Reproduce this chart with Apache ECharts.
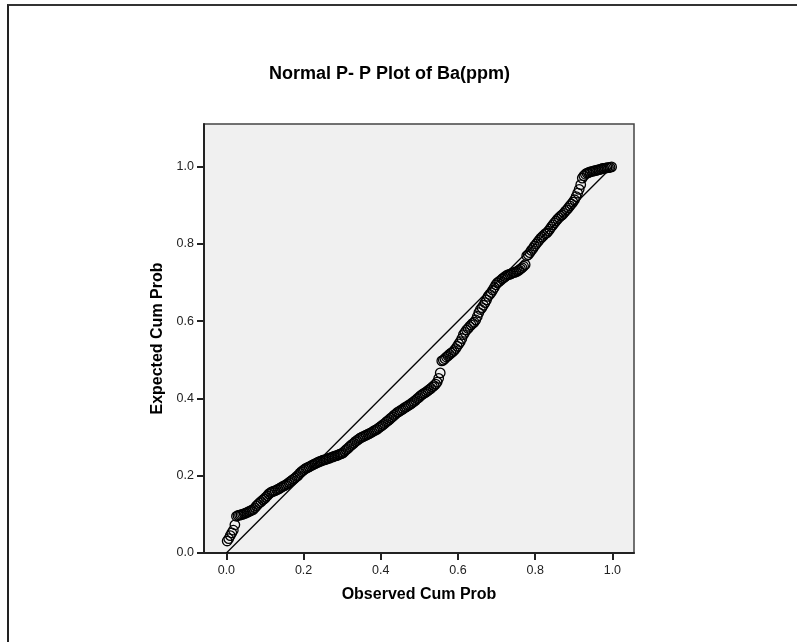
<!DOCTYPE html>
<html>
<head>
<meta charset="utf-8">
<script src="https://cdn.jsdelivr.net/npm/echarts@6/dist/echarts.min.js"></script>
<style>
html,body{margin:0;padding:0;background:#fff;}
#chart{position:absolute;left:0;top:0;width:797px;height:642px;}
#frame{position:absolute;left:7px;top:4px;width:800px;height:650px;border-left:2px solid #222;border-top:2px solid #333;pointer-events:none;}
</style>
</head>
<body>
<div id="chart"></div>
<div id="frame"></div>
<script>
const titleText = 'Normal P- P Plot of Ba(ppm)';
const xName = 'Observed Cum Prob';
const yName = 'Expected Cum Prob';
const xTicks = [0.0, 0.2, 0.4, 0.6, 0.8, 1.0];
const yTicks = [0.0, 0.2, 0.4, 0.6, 0.8, 1.0];
const refLine = [[0, 0], [1, 1]];

const observed = [
0.002,0.006,0.010,0.014,0.018,0.022,0.026,0.030,0.034,0.038,
0.042,0.046,0.050,0.054,0.058,0.062,0.066,0.070,0.074,0.078,
0.082,0.086,0.090,0.094,0.098,0.102,0.106,0.110,0.114,0.118,
0.122,0.126,0.130,0.134,0.138,0.142,0.146,0.150,0.154,0.158,
0.162,0.166,0.170,0.174,0.178,0.182,0.186,0.190,0.194,0.198,
0.202,0.206,0.210,0.214,0.218,0.222,0.226,0.230,0.234,0.238,
0.242,0.246,0.250,0.254,0.258,0.262,0.266,0.270,0.274,0.278,
0.282,0.286,0.290,0.294,0.298,0.302,0.306,0.310,0.314,0.318,
0.322,0.326,0.330,0.334,0.338,0.342,0.346,0.350,0.354,0.358,
0.362,0.366,0.370,0.374,0.378,0.382,0.386,0.390,0.394,0.398,
0.402,0.406,0.410,0.414,0.418,0.422,0.426,0.430,0.434,0.438,
0.442,0.446,0.450,0.454,0.458,0.462,0.466,0.470,0.474,0.478,
0.482,0.486,0.490,0.494,0.498,0.502,0.506,0.510,0.514,0.518,
0.522,0.526,0.530,0.534,0.538,0.542,0.546,0.550,0.554,0.558,
0.562,0.566,0.570,0.574,0.578,0.582,0.586,0.590,0.594,0.598,
0.602,0.606,0.610,0.614,0.618,0.622,0.626,0.630,0.634,0.638,
0.642,0.646,0.650,0.654,0.658,0.662,0.666,0.670,0.674,0.678,
0.682,0.686,0.690,0.694,0.698,0.702,0.706,0.710,0.714,0.718,
0.722,0.726,0.730,0.734,0.738,0.742,0.746,0.750,0.754,0.758,
0.762,0.766,0.770,0.774,0.778,0.782,0.786,0.790,0.794,0.798,
0.802,0.806,0.810,0.814,0.818,0.822,0.826,0.830,0.834,0.838,
0.842,0.846,0.850,0.854,0.858,0.862,0.866,0.870,0.874,0.878,
0.882,0.886,0.890,0.894,0.898,0.902,0.906,0.910,0.914,0.918,
0.922,0.926,0.930,0.934,0.938,0.942,0.946,0.950,0.954,0.958,
0.962,0.966,0.970,0.974,0.978,0.982,0.986,0.990,0.994,0.998
];
const expected = [
0.031,0.037,0.045,0.052,0.059,0.073,0.095,0.097,0.098,0.099,
0.100,0.102,0.103,0.105,0.107,0.109,0.111,0.113,0.117,0.122,
0.126,0.130,0.133,0.137,0.140,0.144,0.148,0.153,0.156,0.158,
0.160,0.161,0.163,0.165,0.167,0.170,0.172,0.174,0.176,0.179,
0.182,0.185,0.188,0.191,0.194,0.198,0.201,0.206,0.210,0.213,
0.216,0.219,0.221,0.223,0.225,0.227,0.229,0.231,0.233,0.235,
0.237,0.238,0.240,0.241,0.242,0.244,0.245,0.247,0.248,0.250,
0.251,0.252,0.254,0.256,0.257,0.259,0.263,0.267,0.270,0.274,
0.278,0.281,0.284,0.288,0.291,0.294,0.297,0.299,0.301,0.303,
0.305,0.307,0.309,0.311,0.313,0.316,0.318,0.320,0.323,0.326,
0.329,0.332,0.335,0.339,0.342,0.345,0.349,0.352,0.356,0.359,
0.363,0.365,0.368,0.370,0.373,0.376,0.378,0.381,0.383,0.386,
0.389,0.392,0.395,0.399,0.402,0.406,0.409,0.412,0.414,0.417,
0.420,0.423,0.426,0.430,0.433,0.437,0.442,0.452,0.466,0.497,
0.499,0.503,0.507,0.510,0.514,0.517,0.520,0.524,0.529,0.535,
0.541,0.547,0.555,0.565,0.571,0.577,0.581,0.586,0.590,0.594,
0.597,0.603,0.612,0.622,0.630,0.635,0.641,0.648,0.655,0.664,
0.669,0.674,0.680,0.687,0.694,0.699,0.702,0.705,0.709,0.712,
0.715,0.718,0.720,0.721,0.723,0.725,0.726,0.727,0.729,0.732,
0.735,0.738,0.742,0.746,0.769,0.772,0.777,0.783,0.788,0.794,
0.799,0.804,0.809,0.814,0.818,0.822,0.826,0.828,0.833,0.838,
0.844,0.849,0.854,0.859,0.864,0.868,0.872,0.875,0.879,0.884,
0.888,0.893,0.898,0.903,0.908,0.914,0.922,0.931,0.941,0.953,
0.970,0.976,0.980,0.983,0.984,0.986,0.987,0.988,0.989,0.990,
0.991,0.992,0.993,0.995,0.995,0.996,0.997,0.997,0.998,0.999
];

const points = observed.map((v, i) => [v, expected[i]]);
const FONT = '"Liberation Sans", Arial, sans-serif';

const chart = echarts.init(document.getElementById('chart'), null, {renderer: 'canvas'});
chart.setOption({
  animation: false,
  backgroundColor: '#ffffff',
  title: {
    text: titleText,
    left: 264,
    top: 60,
    textStyle: {fontFamily: FONT, fontSize: 18, fontWeight: 'bold', color: '#000'}
  },
  grid: {
    left: 204, right: 163, top: 124, bottom: 89,
    show: true, backgroundColor: '#f0f0f0', borderColor: '#444', borderWidth: 1.5
  },
  xAxis: {
    type: 'value', min: -0.058, max: 1.056,
    name: xName, nameLocation: 'middle', nameGap: 34,
    nameTextStyle: {fontFamily: FONT, fontSize: 16, fontWeight: 'bold', color: '#000'},
    splitLine: {show: false},
    axisLine: {show: true, onZero: false, lineStyle: {color: '#222', width: 2}},
    axisTick: {show: true, inside: false, length: 7, customValues: xTicks, lineStyle: {color: '#222', width: 2}},
    axisLabel: {customValues: xTicks, margin: 11, fontFamily: FONT, fontSize: 12.5, color: '#222',
      formatter: v => v.toFixed(1)}
  },
  yAxis: {
    type: 'value', min: 0, max: 1.11,
    name: yName, nameLocation: 'middle', nameGap: 33,
    nameTextStyle: {fontFamily: FONT, fontSize: 16, fontWeight: 'bold', color: '#000'},
    splitLine: {show: false},
    axisLine: {show: true, onZero: false, lineStyle: {color: '#222', width: 2}},
    axisTick: {show: true, inside: false, length: 7, customValues: yTicks, lineStyle: {color: '#222', width: 2}},
    axisLabel: {customValues: yTicks, margin: 10, fontFamily: FONT, fontSize: 12.5, color: '#222',
      formatter: v => v.toFixed(1)}
  },
  series: [
    {
      type: 'line', data: refLine, symbol: 'none', silent: true, z: 2,
      lineStyle: {color: '#000', width: 1.3}
    },
    {
      type: 'scatter', data: points, symbol: 'circle', symbolSize: 9.5, z: 3,
      itemStyle: {color: 'rgba(0,0,0,0)', borderColor: '#000', borderWidth: 1.3, opacity: 1}
    }
  ]
});
</script>
</body>
</html>
